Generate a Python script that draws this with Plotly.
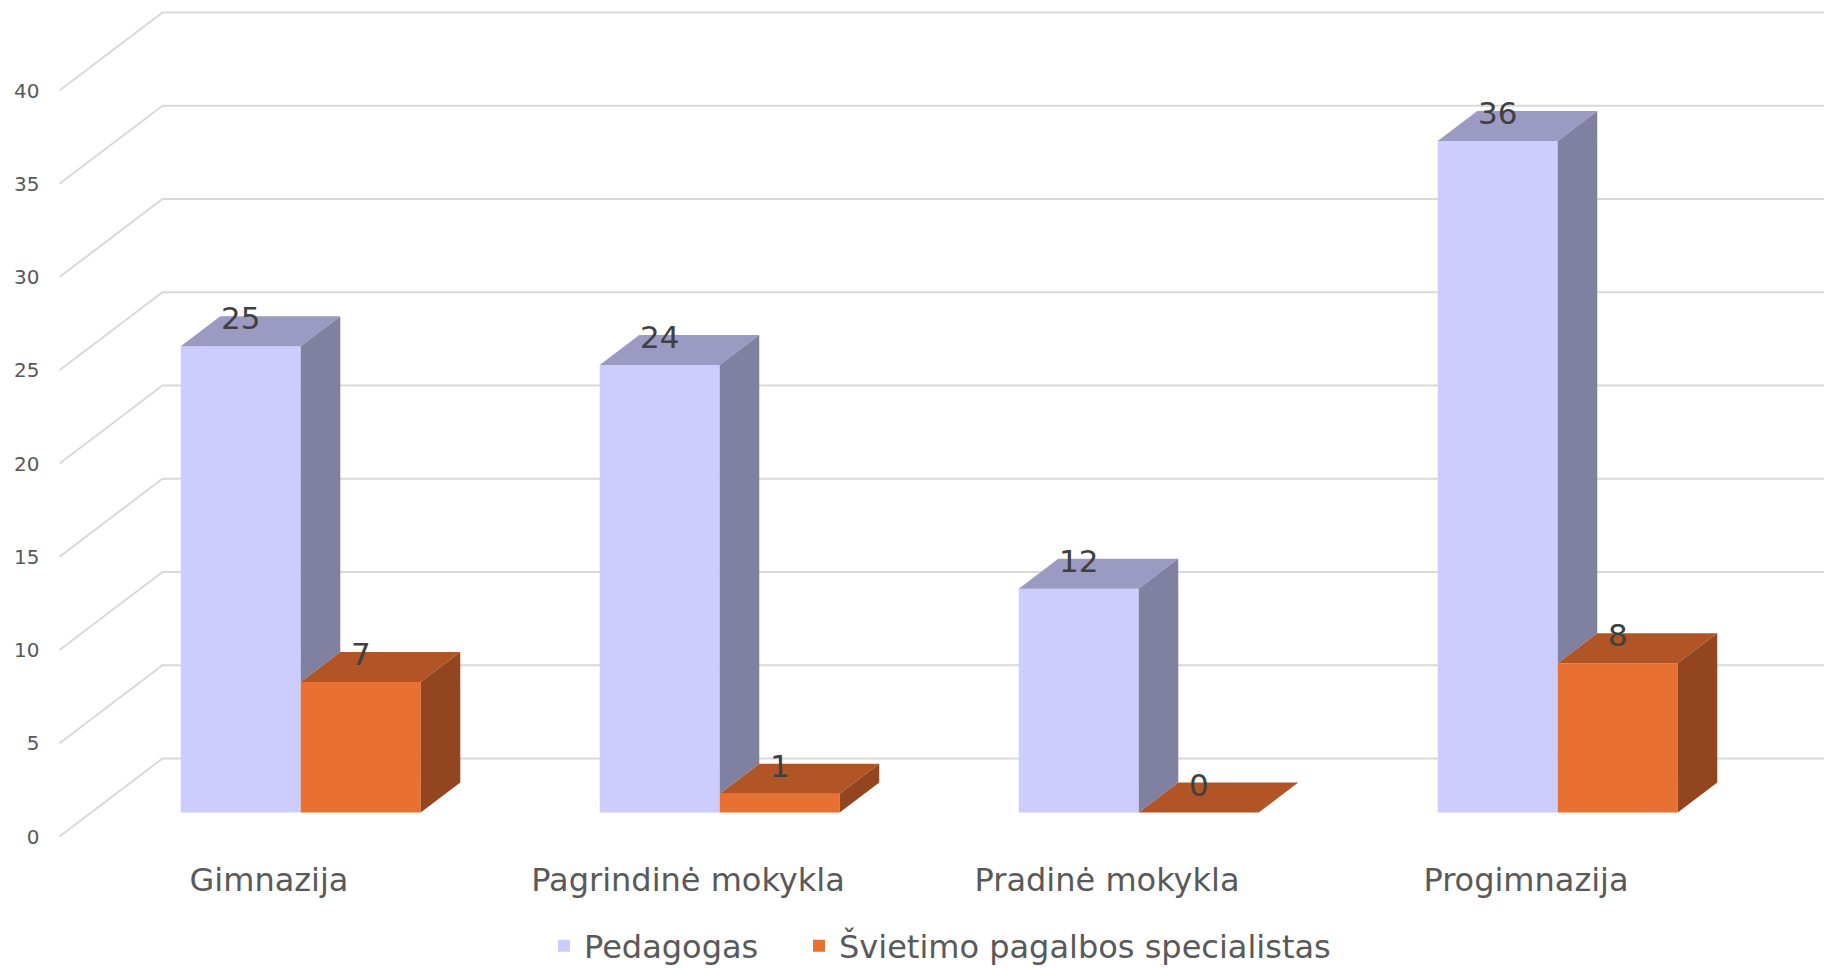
import plotly.graph_objects as go

# ---------------- data ----------------
categories = ["Gimnazija", "Pagrindinė mokykla", "Pradinė mokykla", "Progimnazija"]
series_names = ["Pedagogas", "Švietimo pagalbos specialistas"]
pedagogas = [25, 24, 12, 36]
specialistai = [7, 1, 0, 8]
y_ticks = [0, 5, 10, 15, 20, 25, 30, 35, 40]

# ---------------- styling / geometry ----------------
FIG_W, FIG_H = 1824, 968
CAT_PX = 419.0        # pixels per category step
X0_PX = 269.0         # pixel of category 0 on the front floor edge
UNIT_PX = 18.65       # pixels per value unit
Y0_PX = 836.5         # pixel of value 0 on the front floor edge
DEPTH_X = 103.0 / CAT_PX
DEPTH_Y = 78.0 / UNIT_PX
Z_FRONT, Z_BACK = 0.308, 0.692
BAR_W = 120.0 / CAT_PX
FLOOR_L, FLOOR_R = -0.5, len(categories) - 0.5

front_cols = ["#CCCCFF", "#E87131"]
top_cols = ["#9A9AC2", "#B25526"]
side_cols = ["#8080A0", "#934520"]
grid_col = "#D9D9D9"

FONT = "DejaVu Sans"
LEGEND_X_PX = [544, 799]
LEGEND_Y_PX = 946


def proj(x, y, z):
    return x + z * DEPTH_X, y + z * DEPTH_Y


def path(points):
    return "M" + " L".join(f"{x:.5f},{y:.5f}" for x, y in points) + " Z"


x_range = [-X0_PX / CAT_PX, (FIG_W - X0_PX) / CAT_PX]
y_range = [-(FIG_H - Y0_PX) / UNIT_PX, Y0_PX / UNIT_PX]

fig = go.Figure()
shapes = []
annotations = []

# gridlines: left wall diagonal + back wall horizontal
for t in y_ticks:
    p0 = proj(FLOOR_L, t, 0)
    p1 = proj(FLOOR_L, t, 1)
    p2 = proj(FLOOR_R, t, 1)
    shapes.append(dict(type="path", xref="x", yref="y", layer="below",
                       path=f"M{p0[0]},{p0[1]} L{p1[0]},{p1[1]} L{p2[0]},{p2[1]}",
                       line=dict(color=grid_col, width=2)))

all_series = [pedagogas, specialistai]
offsets = [-BAR_W / 2, BAR_W / 2]
legend_ids = ["legend", "legend2"]

for s, (name, vals) in enumerate(zip(series_names, all_series)):
    xs = [i + offsets[s] for i in range(len(categories))]
    fig.add_trace(go.Bar(
        x=[proj(x, 0, Z_FRONT)[0] for x in xs],
        y=vals,
        base=Z_FRONT * DEPTH_Y,
        width=BAR_W,
        name=name,
        legend=legend_ids[s],
        marker=dict(color=front_cols[s], line=dict(width=0)),
        hoverinfo="skip",
    ))

for s, vals in enumerate(all_series):
    for i, v in enumerate(vals):
        xc = i + offsets[s]
        xl, xr = xc - BAR_W / 2, xc + BAR_W / 2
        # top face
        top = [proj(xl, v, Z_FRONT), proj(xr, v, Z_FRONT), proj(xr, v, Z_BACK), proj(xl, v, Z_BACK)]
        shapes.append(dict(type="path", xref="x", yref="y", layer="above", path=path(top),
                           fillcolor=top_cols[s], line=dict(width=0)))
        # right side face (part hidden by neighbouring bar removed)
        lo = 0
        if s + 1 < len(all_series):
            lo = all_series[s + 1][i]
        if v > lo:
            side = [proj(xr, lo, Z_FRONT), proj(xr, lo, Z_BACK), proj(xr, v, Z_BACK), proj(xr, v, Z_FRONT)]
            shapes.append(dict(type="path", xref="x", yref="y", layer="above", path=path(side),
                               fillcolor=side_cols[s], line=dict(width=0)))
        # value label
        lx = proj(xc, v, Z_FRONT)[0]
        ly = proj(xc, v, Z_BACK)[1]
        annotations.append(dict(x=lx, y=ly, xref="x", yref="y", text=str(v), showarrow=False,
                                font=dict(family=FONT, size=31, color="#404040"),
                                xanchor="center", yanchor="middle", yshift=-2))

legend_common = dict(orientation="h", xanchor="left", y=(FIG_H - LEGEND_Y_PX) / FIG_H, yanchor="middle",
                     font=dict(family=FONT, size=32, color="#595959"), bgcolor="rgba(0,0,0,0)")

fig.update_layout(
    width=FIG_W, height=FIG_H,
    margin=dict(l=0, r=0, t=0, b=0, autoexpand=False),
    paper_bgcolor="white", plot_bgcolor="white",
    barmode="overlay",
    shapes=shapes,
    annotations=annotations,
    showlegend=True,
    legend=dict(x=LEGEND_X_PX[0] / FIG_W, **legend_common),
    legend2=dict(x=LEGEND_X_PX[1] / FIG_W, **legend_common),
    xaxis=dict(range=x_range, tickvals=list(range(len(categories))), ticktext=categories,
               showgrid=False, zeroline=False, showline=False, ticks="",
               anchor="free", position=(FIG_H - Y0_PX) / FIG_H, ticklabelstandoff=21,
               tickfont=dict(family=FONT, size=32, color="#595959"), fixedrange=True),
    yaxis=dict(range=y_range, tickvals=y_ticks, showgrid=False, zeroline=False, showline=False, ticks="",
               anchor="free", position=(X0_PX + FLOOR_L * CAT_PX) / FIG_W, ticklabelstandoff=20,
               tickfont=dict(family=FONT, size=20, color="#595959"), fixedrange=True),
)

fig.write_html("out.html", config={"displayModeBar": False},
               post_script="document.body.style.margin='0';document.body.style.overflow='hidden';")
